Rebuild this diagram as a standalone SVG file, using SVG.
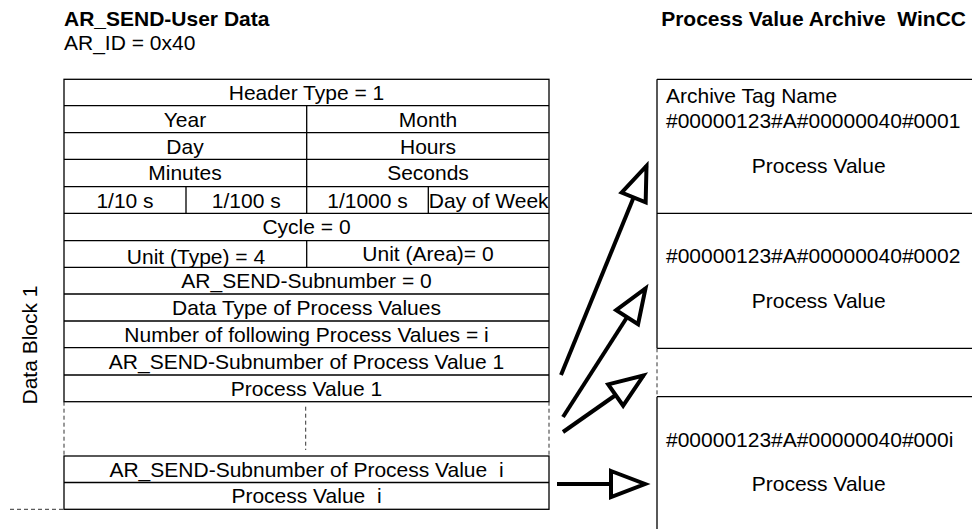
<svg xmlns="http://www.w3.org/2000/svg" width="972" height="529" viewBox="0 0 972 529">
<style>
text{font-family:"Liberation Sans",Arial,sans-serif;font-size:21px;fill:#000}
.b{font-weight:bold}
.c{text-anchor:middle}
.ln{stroke:#000;stroke-width:1.3;fill:none}
.dash{stroke:#333;stroke-width:1;stroke-dasharray:4 3;fill:none}
.arr{stroke:#000;stroke-width:4;fill:none;marker-end:url(#open)}
</style>
<defs>
<marker id="open" markerUnits="userSpaceOnUse" viewBox="0 0 46 34" markerWidth="46" markerHeight="34" refX="38" refY="17" orient="auto" overflow="visible">
<path d="M4,4 L38,17 L4,30 Z" fill="#fff" stroke="#000" stroke-width="4" stroke-linejoin="miter"/>
</marker>
</defs>
<rect width="972" height="529" fill="#fff"/>

<g id="title-left">
<text class="b" x="64" y="26">AR_SEND-User Data</text>
<text x="64" y="50">AR_ID = 0x40</text>
</g>
<g id="title-right">
<text class="b" x="966" y="26" text-anchor="end" xml:space="preserve">Process Value Archive  WinCC</text>
</g>
<g id="label-datablock">
<text class="c" transform="translate(37,345) rotate(-90)">Data Block 1</text>
</g>

<g id="table">
<rect class="ln" x="64" y="79.3" width="485" height="322.4"/>
<path class="ln" d="M64,105.7H549M64,132.7H549M64,159.3H549M64,186.7H549M64,213.3H549M64,240.7H549M64,267.3H549M64,294H549M64,321H549M64,347.7H549M64,375H549"/>
<path class="ln" d="M306.7,105.7V213.3M186,186.7V213.3M428.3,186.7V213.3M306.7,240.7V267.3"/>
</g>
<g id="row-header"><text class="c" x="306.5" y="100.3">Header Type = 1</text></g>
<g id="row-year-month"><text class="c" x="185" y="126.7">Year</text><text class="c" x="428" y="126.7">Month</text></g>
<g id="row-day-hours"><text class="c" x="185" y="153.7">Day</text><text class="c" x="428" y="153.7">Hours</text></g>
<g id="row-min-sec"><text class="c" x="185" y="180.3">Minutes</text><text class="c" x="428" y="180.3">Seconds</text></g>
<g id="row-fractions"><text class="c" x="125" y="207.7">1/10 s</text><text class="c" x="246.3" y="207.7">1/100 s</text><text class="c" x="367.5" y="207.7">1/1000 s</text><text class="c" x="488.7" y="207.7">Day of Week</text></g>
<g id="row-cycle"><text class="c" x="306.5" y="234.3">Cycle = 0</text></g>
<g id="row-unit"><text class="c" x="196" y="263.5">Unit (Type) = 4</text><text class="c" x="428" y="260.5">Unit (Area)= 0</text></g>
<g id="row-subnumber"><text class="c" x="306.5" y="288">AR_SEND-Subnumber = 0</text></g>
<g id="row-datatype"><text class="c" x="306.5" y="315">Data Type of Process Values</text></g>
<g id="row-count"><text class="c" x="306.5" y="341.7">Number of following Process Values = i</text></g>
<g id="row-sub-pv1"><text class="c" x="306.5" y="368.5">AR_SEND-Subnumber of Process Value 1</text></g>
<g id="row-pv1"><text class="c" x="306.5" y="395.5">Process Value 1</text></g>

<g id="table-gap">
<path class="dash" d="M64,401.7V455M549,401.7V455M305.7,406.7V450"/>
<path class="dash" d="M10,509.3H63"/>
</g>
<g id="table-last">
<rect class="ln" x="64" y="456" width="485" height="53.3"/>
<path class="ln" d="M64,482.5H549"/>
<text class="c" x="306.5" y="476.5" xml:space="preserve">AR_SEND-Subnumber of Process Value  i</text>
<text class="c" x="306.5" y="503" xml:space="preserve">Process Value  i</text>
</g>

<g id="archive">
<path class="ln" d="M657,79.3H972M657,213.3H972M657,348.3H972M657,396.7H972M657,79.3V348.3M657,396.7V529"/>
<path class="dash" d="M657,348.3V396.7"/>
</g>
<g id="archive-1">
<text x="666" y="103">Archive Tag Name</text>
<text x="666" y="128.3">#00000123#A#00000040#0001</text>
<text class="c" x="818.7" y="173">Process Value</text>
</g>
<g id="archive-2">
<text x="666" y="263.3">#00000123#A#00000040#0002</text>
<text class="c" x="818.7" y="307.5">Process Value</text>
</g>
<g id="archive-i">
<text x="666" y="447">#00000123#A#00000040#000i</text>
<text class="c" x="818.7" y="490.5">Process Value</text>
</g>

<g id="connectors">
<path class="arr" d="M561,375L646.5,166"/>
<path class="arr" d="M563,417L645.5,288.5"/>
<path class="arr" d="M563,432L643.5,375.5"/>
<path class="arr" d="M557,484H645"/>
</g>
</svg>
